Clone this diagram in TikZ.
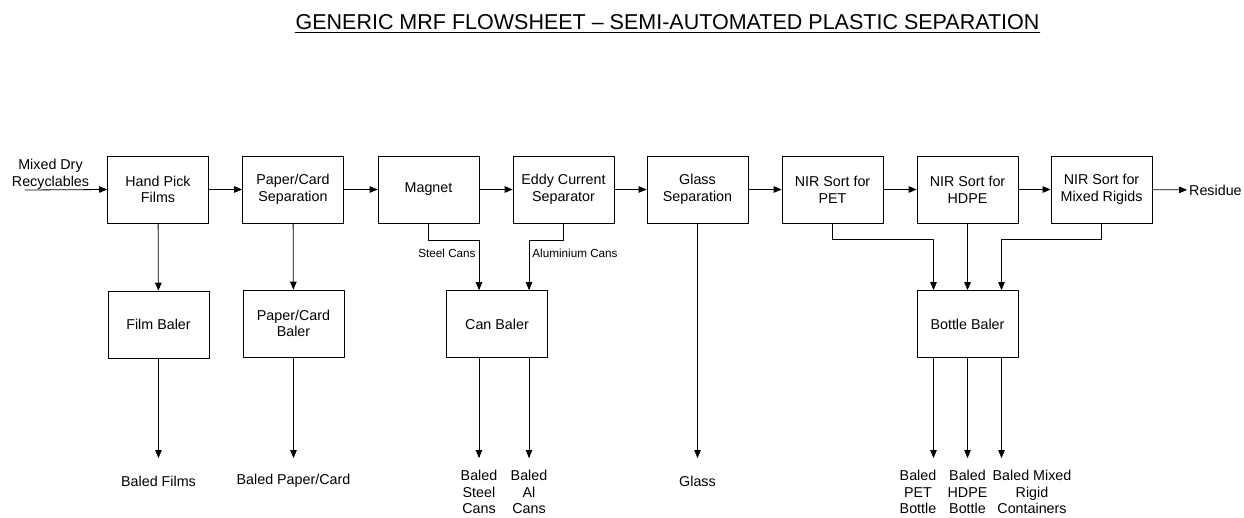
\documentclass[tikz,border=0pt]{standalone}
\usepackage{fontspec}
\setmainfont{Liberation Sans}
\usetikzlibrary{arrows}

\begin{document}
\begin{tikzpicture}[line cap=round,line join=round,>=triangle 45,x=1pt,y=-1pt,
	box/.style={draw,line width=0.8pt,minimum width=101pt,minimum height=67pt,inner sep=0pt,align=center,font=\fontsize{14.3}{16.7}\selectfont},
	lbl/.style={align=center,inner sep=2pt,font=\fontsize{14.3}{16.7}\selectfont},
	small/.style={inner sep=3pt,font=\fontsize{11.7}{14}\selectfont},
	flow/.style={->,line width=0.8pt}]
\useasboundingbox (0,0) rectangle (1244,517);
% title
\node[inner sep=0pt] (title) at (667.5,22) {\fontsize{21.5}{24}\selectfont GENERIC MRF FLOWSHEET – SEMI-AUTOMATED PLASTIC SEPARATION};
\draw[line width=1.3pt] ([yshift=-3pt]title.base west) -- ([yshift=-3pt]title.base east);
% main line
\node[box] (handpick) at (158,189.5) {Hand Pick\\Films};
\node[box] (papersep) at (293,189.5) {Paper/Card\\Separation};
\node[box] (magnet) at (428.5,189.5) {Magnet};
\node[box] (eddy) at (563.5,189.5) {Eddy Current\\Separator};
\node[box] (glasssep) at (697.5,189.5) {Glass\\Separation};
\node[box] (nirpet) at (832.5,189.5) {NIR Sort for\\PET};
\node[box] (nirhdpe) at (967.5,189.5) {NIR Sort for\\HDPE};
\node[box] (nirmixed) at (1101.5,189.5) {NIR Sort for\\Mixed Rigids};
% balers
\node[box] (filmbaler) at (158.5,324.5) {Film Baler};
\node[box] (paperbaler) at (293.5,323.5) {Paper/Card\\Baler};
\node[box] (canbaler) at (497,324) {Can Baler};
\node[box] (bottlebaler) at (967.5,324) {Bottle Baler};
% in and out
\node[lbl] (mixeddry) at (50.5,174) {Mixed Dry\\Recyclables};
\coordinate (feed) at (25,190);
\node[lbl,anchor=west] (residue) at (1187,190) {Residue};
% products
\node[lbl] (baledfilms) at (158.5,481) {Baled Films};
\node[lbl] (baledpaper) at (293.5,481) {Baled Paper/Card};
\node[lbl] (baledsteel) at (479,492) {Baled\\Steel\\Cans};
\node[lbl] (baledal) at (529,492) {Baled\\Al\\Cans};
\node[lbl] (glass) at (697.5,481) {Glass};
\node[lbl] (baledpet) at (918,492) {Baled\\PET\\Bottle};
\node[lbl] (baledhdpe) at (967.5,492) {Baled\\HDPE\\Bottle};
\node[lbl] (baledmixed) at (1032,492) {Baled Mixed\\Rigid\\Containers};
\coordinate (filmend) at (158.5,458);
\coordinate (paperend) at (293.5,458);
\coordinate (steelend) at (479,458);
\coordinate (alend) at (529,458);
\coordinate (glassend) at (697.5,458);
\coordinate (petend) at (933.5,458);
\coordinate (hdpeend) at (967.5,458);
\coordinate (mixedend) at (1001.5,458);

\draw[flow] (feed) -- (handpick.west);
\draw[flow] (handpick) -- (papersep);
\draw[flow] (papersep) -- (magnet);
\draw[flow] (magnet) -- (eddy);
\draw[flow] (eddy) -- (glasssep);
\draw[flow] (glasssep) -- (nirpet);
\draw[flow] (nirpet) -- (nirhdpe);
\draw[flow] (nirhdpe) -- (nirmixed);
\draw[flow] (nirmixed) -- (residue);

\draw[flow] (handpick) -- (filmbaler);
\draw[flow] (papersep) -- (paperbaler);
\draw[flow] (magnet.south) -- ++(0,17) -| node[small,pos=.63,left] {Steel Cans} ([xshift=-18pt]canbaler.north);
\draw[flow] (eddy.south) -- ++(0,17) -| node[small,pos=.63,right] {Aluminium Cans} ([xshift=32pt]canbaler.north);
\draw[flow] (nirpet.south) -- ++(0,16) -| ([xshift=-34pt]bottlebaler.north);
\draw[flow] (nirhdpe) -- (bottlebaler);
\draw[flow] (nirmixed.south) -- ++(0,16) -| ([xshift=34pt]bottlebaler.north);

\draw[flow] (filmbaler) -- (filmend);
\draw[flow] (paperbaler) -- (paperend);
\draw[flow] (canbaler.south -| steelend) -- (steelend);
\draw[flow] (canbaler.south -| alend) -- (alend);
\draw[flow] (glasssep) -- (glassend);
\draw[flow] (bottlebaler.south -| petend) -- (petend);
\draw[flow] (bottlebaler) -- (hdpeend);
\draw[flow] (bottlebaler.south -| mixedend) -- (mixedend);
\end{tikzpicture}
\end{document}
